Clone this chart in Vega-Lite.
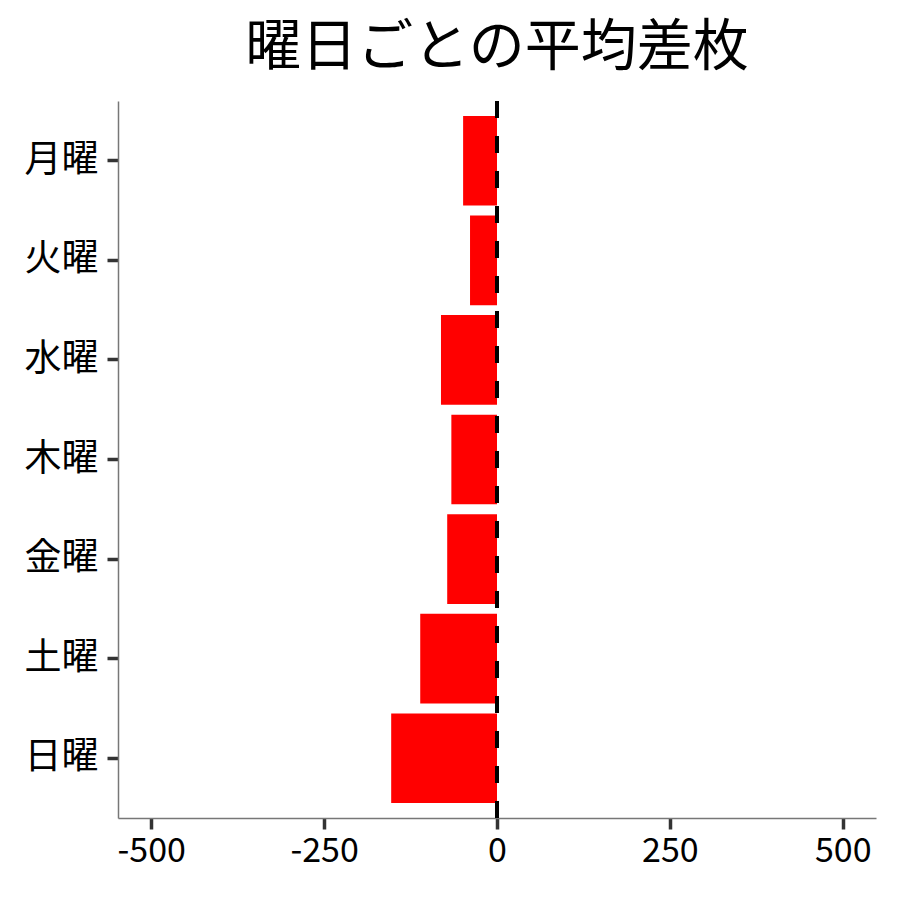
{
  "$schema": "https://vega.github.io/schema/vega-lite/v6.json",
  "autosize": {"type": "none"},
  "padding": {"left": 118, "top": 101, "right": 24, "bottom": 82},
  "width": 758,
  "height": 717,
  "background": "white",
  "title": {
    "text": "曜日ごとの平均差枚",
    "fontSize": 56,
    "font": "Noto Sans CJK JP",
    "fontWeight": "normal",
    "color": "black",
    "anchor": "middle",
    "offset": 22
  },
  "data": {
    "values": [
      {"day": "月曜", "diff": -49},
      {"day": "火曜", "diff": -39},
      {"day": "水曜", "diff": -81},
      {"day": "木曜", "diff": -66},
      {"day": "金曜", "diff": -72},
      {"day": "土曜", "diff": -111},
      {"day": "日曜", "diff": -153}
    ]
  },
  "layer": [
    {
      "mark": {"type": "bar", "color": "#FF0000"},
      "encoding": {
        "y": {
          "field": "day",
          "type": "nominal",
          "sort": ["月曜", "火曜", "水曜", "木曜", "金曜", "土曜", "日曜"],
          "scale": {"paddingInner": 0.1, "paddingOuter": 0.15},
          "axis": {
            "title": null,
            "labelFontSize": 37,
            "labelPadding": 9,
            "tickSize": 11,
            "tickWidth": 3.5,
            "tickColor": "#333333",
            "domainColor": "#777777",
            "domainWidth": 1.5
          }
        },
        "x": {
          "field": "diff",
          "type": "quantitative",
          "scale": {"domain": [-548, 548], "nice": false, "zero": false},
          "axis": {
            "title": null,
            "values": [-500, -250, 0, 250, 500],
            "labelExpr": "toString(datum.value)",
            "grid": false,
            "labelFontSize": 34,
            "labelPadding": 5,
            "tickSize": 11,
            "tickWidth": 3.5,
            "tickColor": "#333333",
            "domainColor": "#777777",
            "domainWidth": 1.5
          }
        }
      }
    },
    {
      "data": {"values": [{"zero": 0}]},
      "mark": {"type": "rule", "color": "black", "strokeWidth": 4, "strokeDash": [17, 18]},
      "encoding": {
        "x": {"field": "zero", "type": "quantitative"}
      }
    }
  ],
  "config": {
    "font": "Noto Sans CJK JP",
    "view": {"stroke": null},
    "axis": {"labelColor": "black", "labelFont": "Noto Sans CJK JP"}
  }
}
